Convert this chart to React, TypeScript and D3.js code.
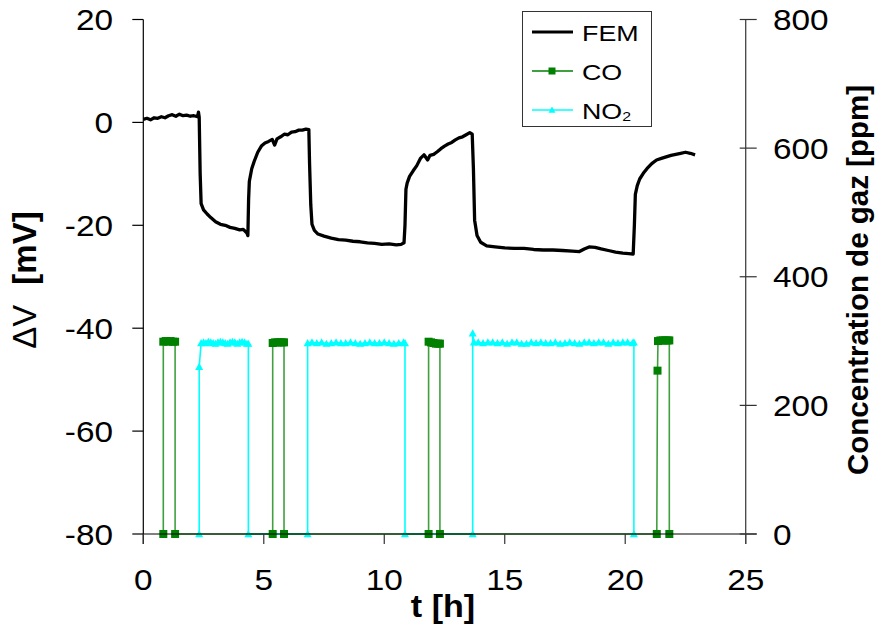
import React from "react";
import * as d3 from "d3";

// ---- Data ----
const femTime = [0.0,0.15,0.3,0.45,0.6,0.75,0.9,1.05,1.2,1.35,1.5,1.65,1.8,1.95,2.1,2.25,2.29,2.32,2.36,2.4,2.5,2.65,2.8,3.0,3.2,3.4,3.6,3.8,4.0,4.15,4.3,4.34,4.37,4.4,4.5,4.6,4.75,4.9,5.05,5.2,5.35,5.45,5.55,5.7,5.85,6.0,6.15,6.3,6.45,6.6,6.75,6.87,6.9,6.95,7.0,7.1,7.25,7.5,7.8,8.1,8.4,8.7,9.0,9.3,9.6,9.9,10.2,10.5,10.7,10.82,10.86,10.9,10.95,11.05,11.2,11.35,11.5,11.65,11.8,11.9,12.05,12.2,12.35,12.5,12.65,12.8,12.95,13.1,13.25,13.4,13.55,13.65,13.7,13.75,13.85,14.0,14.25,14.6,15.0,15.4,15.8,16.2,16.6,17.0,17.4,17.8,18.1,18.3,18.5,18.75,19.0,19.3,19.6,19.9,20.15,20.33,20.38,20.42,20.5,20.6,20.75,20.9,21.1,21.3,21.5,21.7,21.9,22.1,22.3,22.5,22.7,22.9];
const femMv = [0.6,0.8,0.5,0.9,0.8,1.1,0.9,1.3,1.5,1.2,1.6,1.3,1.4,1.2,1.3,1.1,2.0,1.0,-10,-15.8,-17.0,-17.8,-18.5,-19.3,-19.8,-20.0,-20.4,-20.6,-20.9,-20.8,-21.5,-22.0,-15,-11.5,-9.0,-7.6,-5.8,-4.6,-4.0,-3.7,-3.3,-4.4,-3.2,-2.8,-2.3,-2.4,-1.9,-1.8,-1.5,-1.5,-1.3,-1.4,-8,-16,-19.8,-21.0,-21.7,-22.1,-22.5,-22.8,-22.9,-23.1,-23.2,-23.4,-23.5,-23.7,-23.6,-23.8,-23.7,-23.4,-20,-13,-11.8,-10.5,-9.4,-8.4,-7.0,-6.3,-7.3,-6.4,-6.2,-5.7,-5.1,-4.6,-4.2,-3.9,-3.4,-3.0,-2.8,-2.4,-2.0,-2.3,-9,-19,-22.0,-23.3,-24.0,-24.2,-24.4,-24.5,-24.5,-24.7,-24.8,-24.8,-24.9,-25.0,-25.1,-24.6,-24.2,-24.3,-24.6,-24.9,-25.2,-25.4,-25.5,-25.6,-20,-14,-12.3,-11.0,-9.9,-9.0,-8.0,-7.3,-7.0,-6.7,-6.4,-6.2,-6.0,-5.8,-6.0,-6.3];

const coTime = [0.83,0.83,0.93,1.03,1.13,1.23,1.32,1.32, 5.37,5.37,5.47,5.57,5.67,5.77,5.84,5.84, 11.84,11.84,11.94,12.04,12.14,12.24,12.31,12.31, 21.31,21.34,21.36,21.46,21.56,21.66,21.76,21.83,21.83];
const coPpm = [0,299,300,299,300,299,299,0, 0,297,298,298,298,298,298,0, 0,299,298,297,296,296,296,0, 0,254,300,301,301,301,301,301,0];

const no2Time = [2.32,2.32,2.4,2.5,2.6,2.7,2.8,2.9,3.0,3.1,3.2,3.3,3.4,3.5,3.6,3.7,3.8,3.9,4.0,4.1,4.2,4.3,4.36,4.36,
  6.82,6.82,7.0,7.2,7.4,7.6,7.8,8.0,8.2,8.4,8.6,8.8,9.0,9.2,9.4,9.6,9.8,10.0,10.2,10.4,10.6,10.8,10.86,10.86,
  13.67,13.67,13.72,13.9,14.1,14.3,14.5,14.7,14.9,15.1,15.3,15.5,15.7,15.9,16.1,16.3,16.5,16.7,16.9,17.1,17.3,17.5,17.7,17.9,18.1,18.3,18.5,18.7,18.9,19.1,19.3,19.5,19.7,19.9,20.1,20.3,20.36,20.36];
const no2Ppm = [0,260,297,298,297,299,298,297,296,298,299,298,297,296,298,299,298,296,298,299,298,296,296,0,
  0,297,298,297,298,296,297,298,297,297,298,297,296,297,298,297,297,298,297,296,297,298,297,0,
  0,312,298,298,297,298,298,297,298,296,298,298,296,296,298,297,298,297,297,298,296,297,298,297,296,298,298,297,298,298,296,298,297,298,298,297,298,0];

const xTicks = [0, 5, 10, 15, 20, 25];
const leftTicks = [20, 0, -20, -40, -60, -80];
const rightTicks = [800, 600, 400, 200, 0];
const legendLabels = ["FEM", "CO", "NO"];

// ---- Layout ----
const W = 879, H = 628;
const x = d3.scaleLinear().domain([0, 25]).range([143.3, 745.7]);
const yL = d3.scaleLinear().domain([-80, 20]).range([534, 19.5]);
const yR = d3.scaleLinear().domain([0, 800]).range([534, 19.5]);

const FONT = "Arial, 'Liberation Sans', sans-serif";
const TICK_FS = 29;
const SX = 1.15;

function T({ x, y, anchor = "start", fs = TICK_FS, sx = SX, weight = "normal", children }: any) {
  return (
    <text transform={`translate(${x},${y}) scale(${sx},1)`} textAnchor={anchor}
      fontFamily={FONT} fontSize={fs} fontWeight={weight} fill="#000">{children}</text>
  );
}

export default function App() {
  const femPts = femTime.map((t, i) => [t, femMv[i]] as [number, number]);
  const coPts = coTime.map((t, i) => [t, coPpm[i]] as [number, number]);
  const no2Pts = no2Time.map((t, i) => [t, no2Ppm[i]] as [number, number]);

  const lineL = d3.line<[number, number]>().x(d => x(d[0])).y(d => yL(d[1]));
  const lineR = d3.line<[number, number]>().x(d => x(d[0])).y(d => yR(d[1]));

  const x0 = x(0), x1 = x(25), yb = yL(-80), yt = yL(20);
  const tri = (cx: number, cy: number, s = 8) =>
    `M${cx},${cy - s * 0.5}L${cx + s * 0.5},${cy + s * 0.4}L${cx - s * 0.5},${cy + s * 0.4}Z`;

  const lgX = 522, lgY = 11, lgW = 129, lgH = 115;

  return (
    <svg width={W} height={H} style={{ position: "absolute", left: 0, top: 0, background: "#fff" }}>
      <rect x={0} y={0} width={W} height={H} fill="#fff" />

      {/* series: NO2 */}
      <path d={lineR(no2Pts) || ""} fill="none" stroke="#00FFFF" strokeWidth={1.6} />
      {no2Pts.map((d, i) => (
        <path key={"n" + i} d={tri(x(d[0]), yR(d[1]))} fill="#00FFFF" />
      ))}
      {/* series: CO */}
      <path d={lineR(coPts) || ""} fill="none" stroke="#008000" strokeWidth={1.6} strokeOpacity={0.75} />
      {coPts.map((d, i) => (
        <rect key={"c" + i} x={x(d[0]) - 4} y={yR(d[1]) - 4} width={8} height={8} fill="#008000" />
      ))}
      {/* series: FEM */}
      <path d={lineL(femPts) || ""} fill="none" stroke="#000" strokeWidth={3.3} strokeLinejoin="round" />

      {/* left axis */}
      <line x1={x0} x2={x0} y1={yt} y2={yb + 10} stroke="#000" strokeWidth={1.2} />
      {leftTicks.map(v => (
        <g key={"l" + v}>
          <line x1={x0 - 11} x2={x0} y1={yL(v)} y2={yL(v)} stroke="#000" strokeWidth={1.2} />
          <T x={113} y={yL(v) + 10.5} anchor="end">{v}</T>
        </g>
      ))}
      {/* x axis */}
      <line x1={x0} x2={x1 + 11} y1={yb} y2={yb} stroke="#000" strokeWidth={1.2} />
      {xTicks.map(v => (
        <g key={"x" + v}>
          <line x1={x(v)} x2={x(v)} y1={yb} y2={yb + 10} stroke="#333" strokeWidth={1.2} />
          <T x={x(v)} y={590} anchor="middle">{v}</T>
        </g>
      ))}
      {/* right axis */}
      <line x1={x1} x2={x1} y1={yR(800)} y2={yb + 10} stroke="#444" strokeWidth={1.3} />
      {rightTicks.map(v => (
        <g key={"r" + v}>
          <line x1={x1 - 6} x2={x1 + 11} y1={yR(v)} y2={yR(v)} stroke="#333" strokeWidth={1.2} />
          <T x={773} y={yR(v) + 10.5} anchor="start">{v}</T>
        </g>
      ))}

      {/* axis titles */}
      <text transform={`translate(36,280) rotate(-90)`} textAnchor="middle" fontFamily={FONT} fontSize={33} fill="#000">
        <tspan>ΔV</tspan>
        <tspan fontWeight="bold" dx={20}>[mV]</tspan>
      </text>
      <text transform={`translate(868,280) rotate(-90)`} textAnchor="middle" fontFamily={FONT} fontSize={29.5} fontWeight="bold" fill="#000">
        Concentration de gaz [ppm]
      </text>
      <T x={443} y={617} anchor="middle" fs={31} sx={1.1} weight="bold">t [h]</T>

      {/* legend */}
      <rect x={lgX + 0.5} y={lgY + 0.5} width={lgW} height={lgH} fill="#fff" stroke="#333" strokeWidth={1} />
      <line x1={532} x2={573} y1={32} y2={32} stroke="#000" strokeWidth={3} />
      <T x={582} y={40.5} fs={22} sx={1.22}>{legendLabels[0]}</T>
      <line x1={532} x2={573} y1={71} y2={71} stroke="#008000" strokeWidth={1.5} />
      <rect x={552 - 3.5} y={71 - 3.5} width={7} height={7} fill="#008000" />
      <T x={582} y={79.5} fs={22} sx={1.22}>{legendLabels[1]}</T>
      <line x1={532} x2={573} y1={110} y2={110} stroke="#00FFFF" strokeWidth={1.5} />
      <path d={tri(552, 110, 7)} fill="#00FFFF" />
      <text transform={`translate(582,118.5) scale(1.22,1)`} fontFamily={FONT} fontSize={22} fill="#000">
        {legendLabels[2]}<tspan fontSize={13} dy={2}>2</tspan>
      </text>
    </svg>
  );
}
